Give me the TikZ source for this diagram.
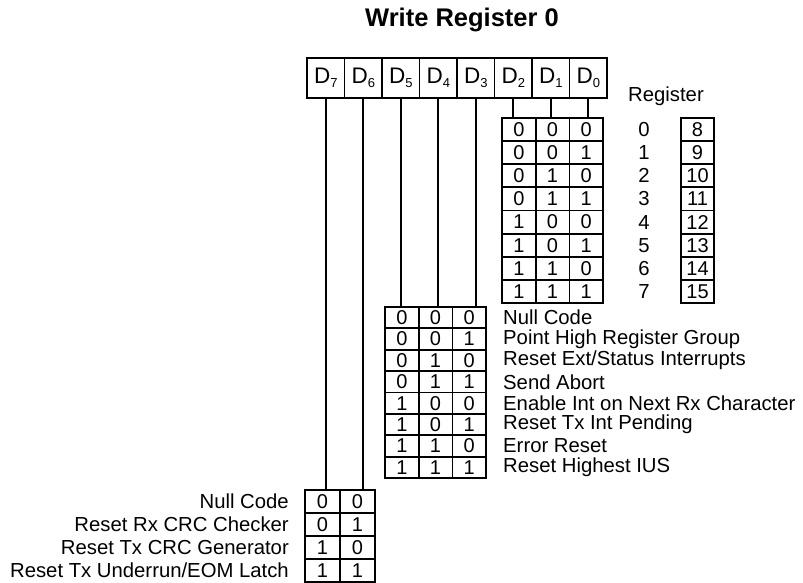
\documentclass[tikz,border=0pt]{standalone}
\usepackage{fontspec}
\setmainfont{Liberation Sans}
\newcommand\dsub[1]{\raisebox{-0.35ex}{\fontsize{13}{13}\selectfont #1}}
\begin{document}
\begin{tikzpicture}[x=1pt,y=-1pt,
  thick line/.style={line width=1.8pt},
  hcell/.style={draw, thick line, inner sep=0pt, minimum width=37.5pt, minimum height=40pt, font=\fontsize{22.5}{22.5}\selectfont},
  cellA/.style={draw, thick line, inner sep=0pt, minimum width=33.7pt, minimum height=23.1pt, font=\fontsize{20}{20}\selectfont},
  cellB/.style={draw, thick line, inner sep=0pt, minimum width=33.7pt, minimum height=21.4pt, font=\fontsize{20}{20}\selectfont},
  cellC/.style={draw, thick line, inner sep=0pt, minimum width=35pt, minimum height=22.9pt, font=\fontsize{20}{20}\selectfont},
  lbl/.style={inner sep=0pt, font=\fontsize{20.3}{20.3}\selectfont},
  conn/.style={thick line}]
\useasboundingbox (0,0) rectangle (803,582);
\node[font=\bfseries\fontsize{25.5}{25.5}\selectfont] (title) at (462,20) {Write Register 0};
% header
\foreach \i/\x in {7/325.75,6/363.25,5/400.75,4/438.25,3/475.75,2/513.25,1/550.75,0/588.25}
  \node[hcell] (D\i) at (\x,78) {D\dsub{\i}};
% table 1 and register map
\foreach \r/\a/\b/\c in {1/0/0/0,2/0/0/1,3/0/1/0,4/0/1/1,5/1/0/0,6/1/0/1,7/1/1/0,8/1/1/1}{
  \pgfmathsetmacro\yy{118+(\r-0.5)*23.125}
  \pgfmathtruncatemacro\rn{\r-1}
  \pgfmathtruncatemacro\rv{\r+7}
  \node[cellA] (t1-\r-1) at (518.85,\yy) {\a};
  \node[cellA] (t1-\r-2) at (552.55,\yy) {\b};
  \node[cellA] (t1-\r-3) at (586.25,\yy) {\c};
  \node[lbl] (rn\r) at (644,\yy) {\rn};
  \node[cellA] (rg\r) at (697.5,\yy) {\rv};
}
\node[lbl] (reglbl) at (666,96) {Register};
% table 2
\foreach \r/\a/\b/\c/\t in {1/0/0/0/Null Code,2/0/0/1/Point High Register Group,3/0/1/0/Reset Ext{/}Status Interrupts,4/0/1/1/Send Abort,5/1/0/0/Enable Int on Next Rx Character,6/1/0/1/Reset Tx Int Pending,7/1/1/0/Error Reset,8/1/1/1/Reset Highest IUS}{
  \pgfmathsetmacro\yy{307+(\r-0.5)*21.375}
  \node[cellB] (t2-\r-1) at (401.85,\yy) {\a};
  \node[cellB] (t2-\r-2) at (435.55,\yy) {\b};
  \node[cellB] (t2-\r-3) at (469.25,\yy) {\c};
  \node[lbl, anchor=west] (l2-\r) at (503,\yy) {\t};
}
% table 3
\foreach \r/\a/\b/\t in {1/0/0/Null Code,2/0/1/Reset Rx CRC Checker,3/1/0/Reset Tx CRC Generator,4/1/1/Reset Tx Underrun{/}EOM Latch}{
  \pgfmathsetmacro\yy{490+(\r-0.5)*22.9}
  \node[cellC] (t3-\r-1) at (322.5,\yy) {\a};
  \node[cellC] (t3-\r-2) at (357.5,\yy) {\b};
  \node[lbl, anchor=east] (l3-\r) at (289,\yy) {\t};
}
% connectors
\draw[conn] (D7.south) -- (D7.south |- t3-1-1.north);
\draw[conn] (D6.south) -- (D6.south |- t3-1-2.north);
\draw[conn] (D5.south) -- (D5.south |- t2-1-1.north);
\draw[conn] (D4.south) -- (D4.south |- t2-1-2.north);
\draw[conn] (D3.south) -- (D3.south |- t2-1-3.north);
\draw[conn] (D2.south) -- (D2.south |- t1-1-1.north);
\draw[conn] (D1.south) -- (D1.south |- t1-1-2.north);
\draw[conn] (D0.south) -- (D0.south |- t1-1-3.north);
\end{tikzpicture}
\end{document}
